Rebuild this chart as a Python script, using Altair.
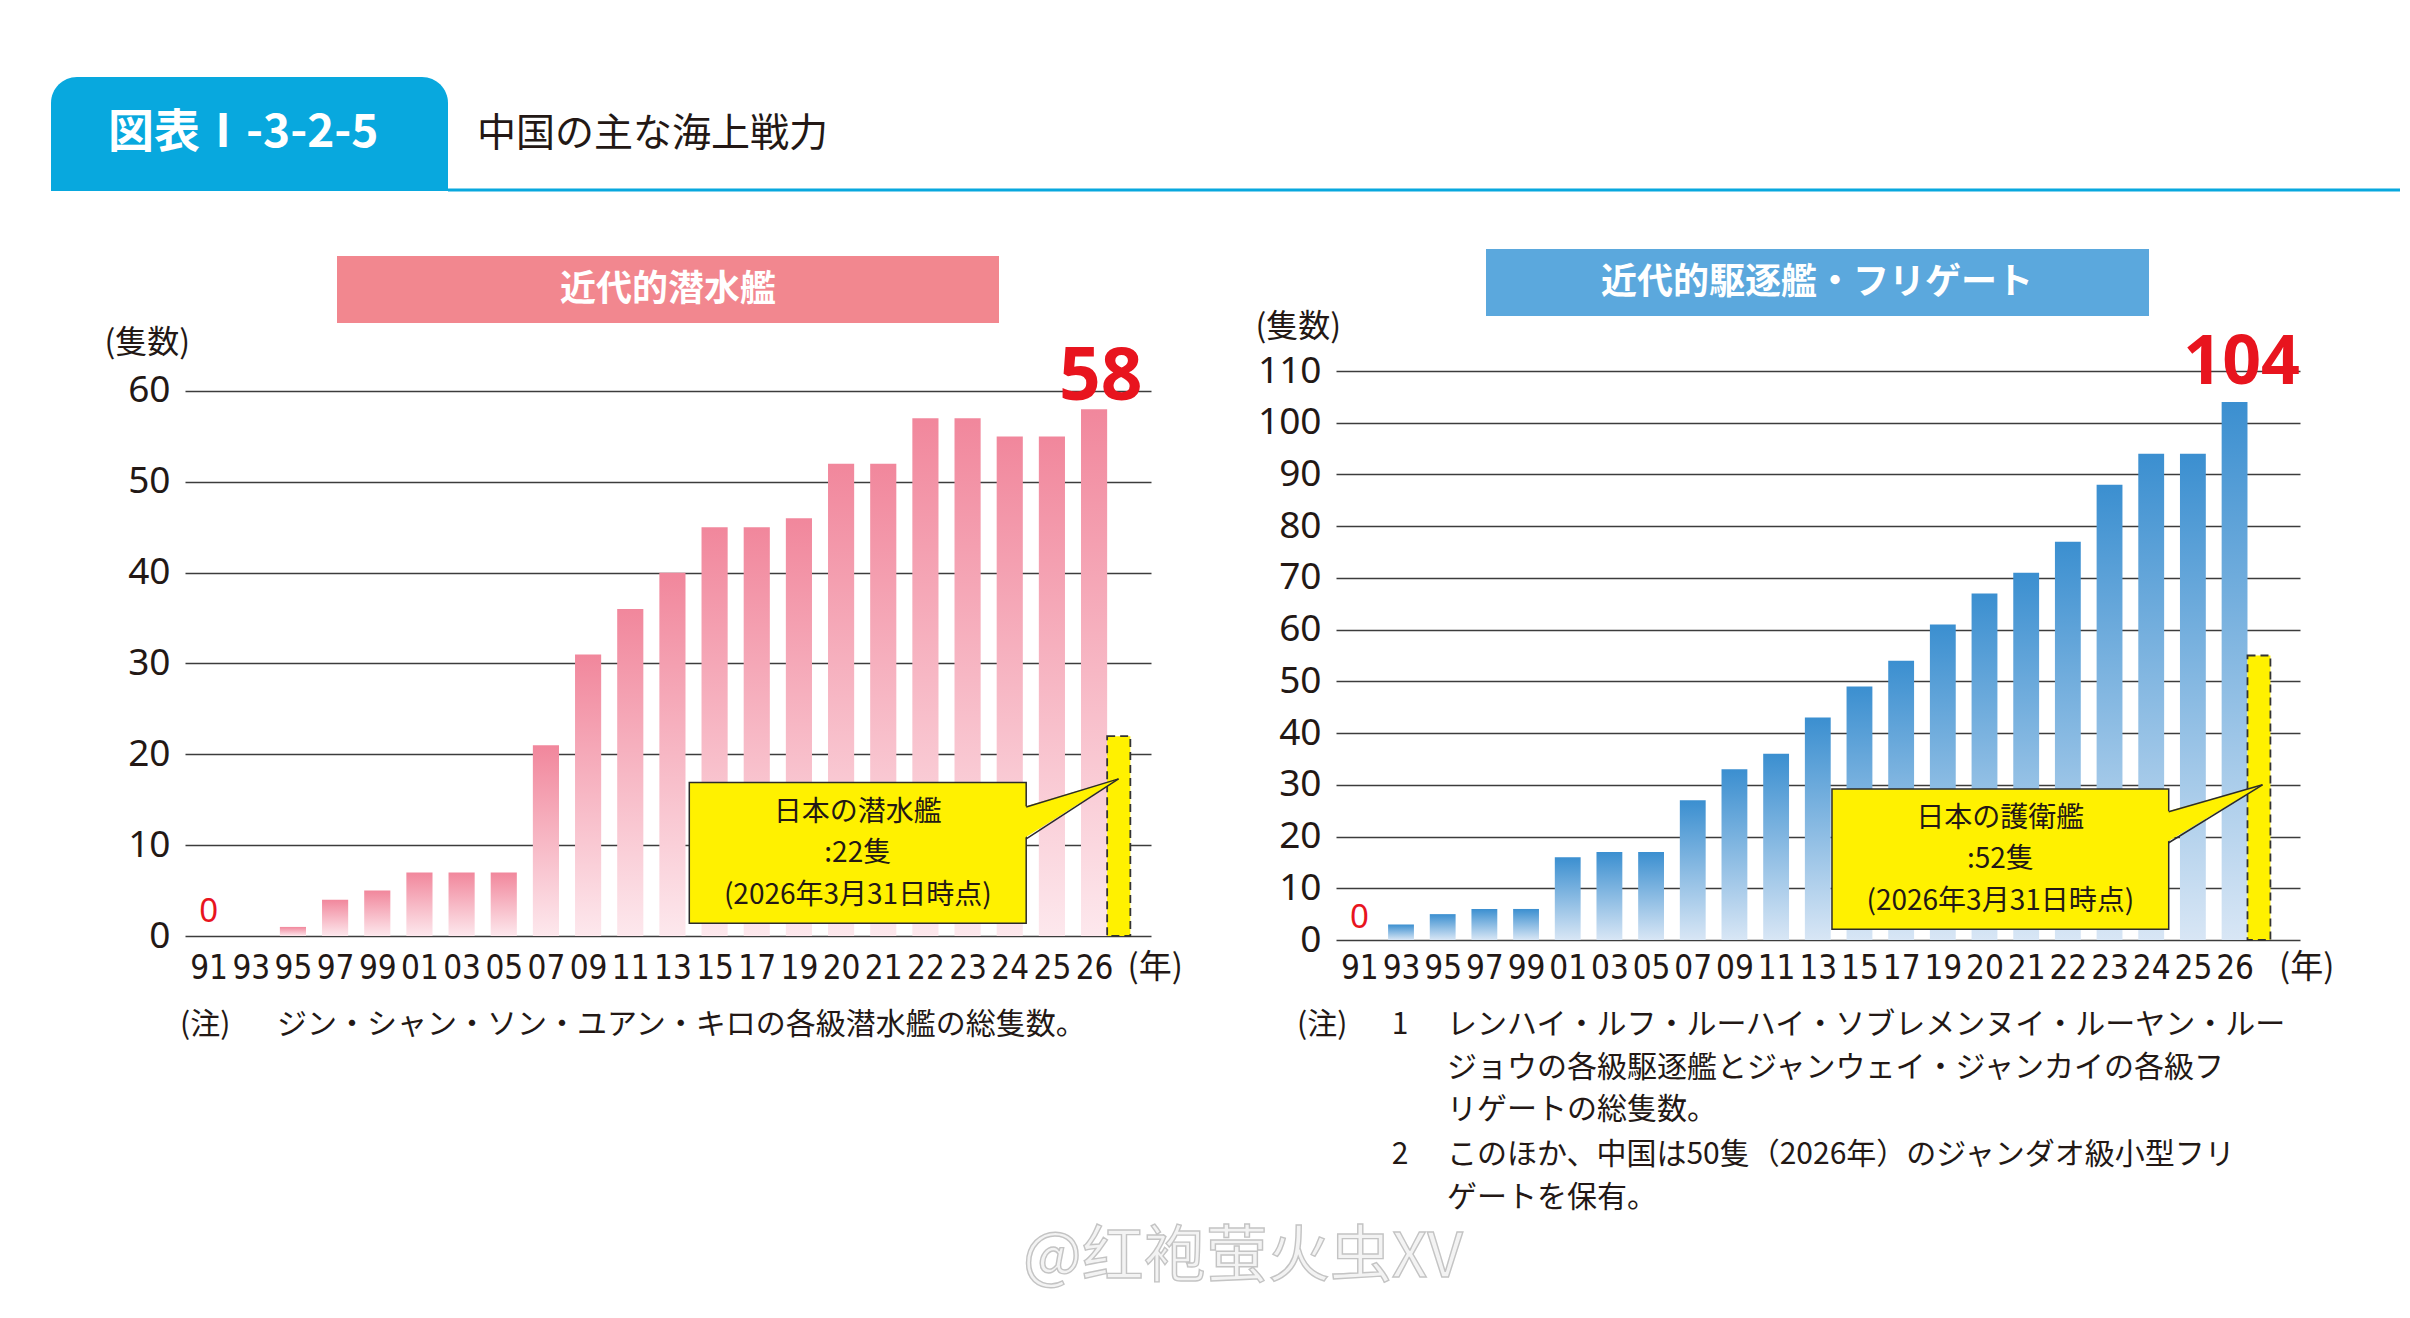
import altair as alt
import pandas as pd

# ---------------- data ----------------
years = ["91", "93", "95", "97", "99", "01", "03", "05", "07", "09", "11",
         "13", "15", "17", "19", "20", "21", "22", "23", "24", "25", "26"]
submarines = [0, 0, 1, 4, 5, 7, 7, 7, 21, 31, 36, 40, 45, 45, 46, 52, 52, 57, 57, 55, 55, 58]
destroyers = [0, 3, 5, 6, 6, 16, 17, 17, 27, 33, 36, 43, 49, 54, 61, 67, 71, 77, 88, 94, 94, 104]
japan_submarines = 22
japan_escorts = 55
sub_ticks = [0, 10, 20, 30, 40, 50, 60]
dd_ticks = [0, 10, 20, 30, 40, 50, 60, 70, 80, 90, 100, 110]
sub_callout = ["日本の潜水艦", ":22隻", "(2026年3月31日時点)"]
dd_callout = ["日本の護衛艦", ":52隻", "(2026年3月31日時点)"]

header_id = "図表Ⅰ-3-2-5"
header_title = "中国の主な海上戦力"
sub_title = "近代的潜水艦"
dd_title = "近代的駆逐艦・フリゲート"
unit_label = "(隻数)"
year_label = "(年)"
note_head = "(注)"
sub_note = "ジン・シャン・ソン・ユアン・キロの各級潜水艦の総隻数。"
dd_note_1 = ["レンハイ・ルフ・ルーハイ・ソブレメンヌイ・ルーヤン・ルー",
             "ジョウの各級駆逐艦とジャンウェイ・ジャンカイの各級フ",
             "リゲートの総隻数。"]
dd_note_2 = ["このほか、中国は50隻（2026年）のジャンダオ級小型フリ",
             "ゲートを保有。"]
watermark = "@红袍萤火虫XV"

# ---------------- styles ----------------
JP = "Noto Sans CJK JP"
SANS = "Noto Sans"
NARROW = "Noto Sans Condensed, DejaVu Sans Condensed, Liberation Sans Narrow, Noto Sans"
INK = "#231815"
RED = "#E8141E"
YELLOW = "#FFF100"
GRID = "#3c3c3c"
EDGE = "#2b2b2b"
HALF = 0.31

LEFT = dict(xdom=[-0.56, 22.35], ydom=[-0.44, 62.2], width=966, height=569,
            unit_y=-29, big_x=21.16, big_dy=-9, big_size=73, zero_dy=-14,
            nen_x=22.45, nen_dy=32,
            box=(11.40, 19.39, 16.9, 1.4), ptr=(14.2, 10.7, 21.58, 17.3),
            tbox=(152, 814, -115, -48), ttext=(483, -81), tcolor="#F2878F",
            grad=("#F1879C", "#FDE8ED"))
RIGHT = dict(xdom=[-0.56, 22.57], ydom=[0, 110], width=964, height=569,
             unit_y=-45, big_x=21.17, big_dy=-18, big_size=68, zero_dy=-12,
             nen_x=22.73, nen_dy=28,
             box=(11.34, 19.42, 29.2, 2.1), ptr=(24.8, 18.8, 21.67, 30.0),
             tbox=(150, 813, -122, -55), ttext=(481, -88), tcolor="#5BA8DD",
             grad=("#3B8FD0", "#D8E6F5"))

one = pd.DataFrame({"k": [0]})


def value_text(text, x, y, size, align="left", color=INK, font=JP, weight="normal", **kw):
    return alt.Chart(one).mark_text(
        text=text, font=font, fontSize=size, fontWeight=weight, color=color,
        align=align, baseline="middle", **kw
    ).encode(x=alt.value(x), y=alt.value(y))


def panel(values, japan_value, callout, ticks, cfg, notes):
    n = len(values)
    idx = list(range(n))
    xs = alt.Scale(domain=cfg["xdom"], nice=False, zero=False)
    ys = alt.Scale(domain=cfg["ydom"], nice=False, zero=False)
    label_expr = "[" + ",".join("'%s'" % y for y in years) + "][datum.value]"
    xaxis = alt.Axis(values=idx, labelExpr=label_expr, grid=False, domain=False, ticks=False,
                     labelFont=NARROW, labelFontSize=33, labelColor=INK, labelPadding=28,
                     labelBaseline="middle", labelOverlap=False, labelFlush=False, title="")
    yaxis = alt.Axis(values=ticks, grid=True, gridColor=GRID, gridWidth=1.4, domain=False,
                     ticks=False, labelFont=SANS, labelFontSize=37, labelColor=INK,
                     labelPadding=15, title=unit_label, titleAngle=0, titleAlign="left",
                     titleBaseline="middle", titleX=-81, titleY=cfg["unit_y"], titleFont=JP,
                     titleFontSize=32, titleFontWeight="normal", titleColor=INK)

    def X(f):
        return alt.X(f, type="quantitative", scale=xs, axis=xaxis)

    def Y(f):
        return alt.Y(f, type="quantitative", scale=ys, axis=yaxis)

    bars = pd.DataFrame({"i": idx, "v": values})
    bars["a"] = bars["i"] - HALF
    bars["b"] = bars["i"] + HALF
    bars["z"] = 0
    bars = bars[bars["v"] > 0]

    last = n - 1
    jp = pd.DataFrame({"a": [last + HALF], "b": [last + 0.86], "v": [japan_value], "z": [0]})

    grad = alt.LinearGradient(gradient="linear", x1=0, x2=0, y1=0, y2=1,
                              stops=[alt.GradientStop(color=cfg["grad"][0], offset=0),
                                     alt.GradientStop(color=cfg["grad"][1], offset=1)])

    layers = []
    layers.append(alt.Chart(bars).mark_bar(fill=grad).encode(
        x=X("a"), x2="b", y=Y("v"), y2="z"))
    layers.append(alt.Chart(jp).mark_bar(fill=YELLOW, stroke="#333333", strokeWidth=1.8,
                                         strokeDash=[8, 5]).encode(
        x=X("a"), x2="b", y=Y("v"), y2="z"))

    bx0, bx1, by0, by1 = cfg["box"]
    box = pd.DataFrame({"x0": [bx0], "x1": [bx1], "y0": [by0], "y1": [by1]})
    layers.append(alt.Chart(box).mark_rect(fill=YELLOW, stroke=EDGE, strokeWidth=1.5).encode(
        x=X("x0"), x2="x1", y=Y("y0"), y2="y1"))

    ya, yb, tx, ty = cfg["ptr"]
    tri = pd.DataFrame({"x": [bx1 - 0.07, tx], "y": [ya, ty], "y2": [yb, ty]})
    layers.append(alt.Chart(tri).mark_area(fill=YELLOW).encode(x=X("x"), y=Y("y"), y2="y2"))
    edges = pd.DataFrame({"x": [bx1, tx, bx1, tx], "y": [ya, ty, yb, ty], "g": [0, 0, 1, 1]})
    layers.append(alt.Chart(edges).mark_line(color=EDGE, strokeWidth=1.5).encode(
        x=X("x"), y=Y("y"), detail="g:N"))

    cx = (bx0 + bx1) / 2
    fr = [0.215, 0.51, 0.805]
    ct = pd.DataFrame({"x": [cx] * 3, "y": [by0 - f * (by0 - by1) for f in fr], "t": callout})
    layers.append(alt.Chart(ct).mark_text(font=JP, fontSize=28, color=INK, align="center",
                                          baseline="middle").encode(
        x=X("x"), y=Y("y"), text="t:N"))

    big = pd.DataFrame({"x": [cfg["big_x"]], "v": [values[-1]], "t": [str(values[-1])]})
    layers.append(alt.Chart(big).mark_text(font=SANS, fontSize=cfg["big_size"], fontWeight="bold",
                                           color=RED, align="center", baseline="alphabetic",
                                           dy=cfg["big_dy"]).encode(
        x=X("x"), y=Y("v"), text="t:N"))

    zero = pd.DataFrame({"x": [0], "v": [values[0]], "t": [str(values[0])]})
    layers.append(alt.Chart(zero).mark_text(font=SANS, fontSize=33, color=RED, align="center",
                                            baseline="alphabetic", dy=cfg["zero_dy"]).encode(
        x=X("x"), y=Y("v"), text="t:N"))

    nen = pd.DataFrame({"x": [cfg["nen_x"]], "v": [0], "t": [year_label]})
    layers.append(alt.Chart(nen).mark_text(font=JP, fontSize=33, color=INK, align="center",
                                           baseline="middle", dy=cfg["nen_dy"]).encode(
        x=X("x"), y=Y("v"), text="t:N"))

    t0, t1, u0, u1 = cfg["tbox"]
    layers.append(alt.Chart(one).mark_rect(fill=cfg["tcolor"]).encode(
        x=alt.value(t0), x2=alt.value(t1), y=alt.value(u0), y2=alt.value(u1)))
    layers.append(value_text(notes["title"], cfg["ttext"][0], cfg["ttext"][1], 36,
                             align="center", color="white", weight="bold"))
    for item in notes["lines"]:
        layers.append(value_text(*item))

    return alt.layer(*layers).properties(width=cfg["width"], height=cfg["height"])


left_notes = {
    "title": sub_title,
    "lines": [(note_head, -5, 654, 30), (sub_note, 92, 654, 30)],
}
right_lines = [(note_head, -39, 654, 30), ("1", 64, 654, 30, "center")]
for t, yy in zip(dd_note_1, [654, 697, 739]):
    right_lines.append((t, 111, yy, 30))
right_lines.append(("2", 64, 784, 30, "center"))
for t, yy in zip(dd_note_2, [784, 827]):
    right_lines.append((t, 111, yy, 30))
right_notes = {"title": dd_title, "lines": right_lines}

left = panel(submarines, japan_submarines, sub_callout, sub_ticks, LEFT, left_notes)
wm = alt.Chart(one).mark_text(text=watermark, font="Noto Sans CJK SC", fontSize=62,
                              fill="#f3f3f3", stroke="#c4c4c4", strokeWidth=1.4,
                              align="left", baseline="middle").encode(
    x=alt.value(838), y=alt.value(887))
left = alt.layer(left, wm)
right = panel(destroyers, japan_escorts, dd_callout, dd_ticks, RIGHT, right_notes)

# ---------------- header ----------------
tab = alt.Chart(one).mark_rect(fill="#08A8DE", cornerRadiusTopLeft=26,
                               cornerRadiusTopRight=26).encode(
    x=alt.value(-134), x2=alt.value(263), y=alt.value(0), y2=alt.value(114))
hline = alt.Chart(one).mark_rule(color="#08A8DE", strokeWidth=3).encode(
    x=alt.value(263), x2=alt.value(2215), y=alt.value(113))
hid = value_text(header_id, -77, 56, 46, color="white", weight="bold")
htitle = value_text(header_title, 292, 57, 39)
header = alt.layer(tab, hline, hid, htitle).properties(width=2115, height=114)

panels = alt.HConcatChart(hconcat=[left, right], spacing=185, bounds="flush")
chart = alt.VConcatChart(vconcat=[header, panels], spacing=180, bounds="flush").properties(
    padding={"left": 43, "top": 69, "right": 0, "bottom": 5},
    background="white",
).configure(font=JP).configure_view(stroke="transparent", strokeWidth=0)

chart.save("out.html", embed_options={"renderer": "svg", "actions": False})
